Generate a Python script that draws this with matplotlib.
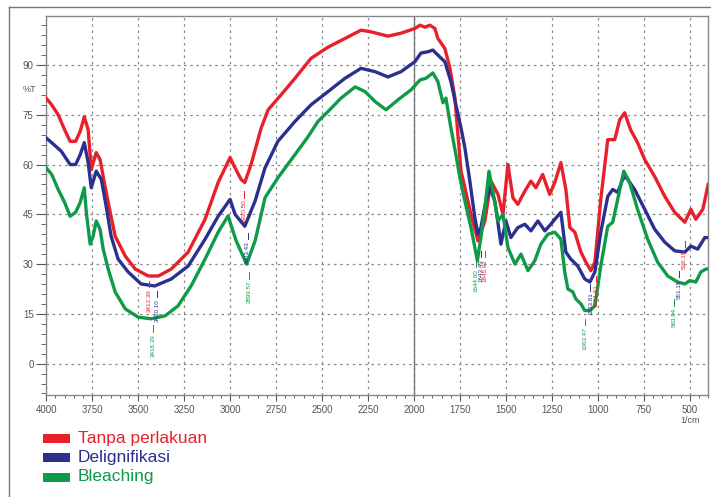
import matplotlib
matplotlib.use('Agg')
import matplotlib.pyplot as plt
from matplotlib.patches import Rectangle
from matplotlib.lines import Line2D
from matplotlib.ticker import MultipleLocator
import numpy as np

plt.rcParams['font.family'] = ['Liberation Sans', 'DejaVu Sans']

# spektrum FTIR: bilangan gelombang (1/cm) dan transmitansi (%T)
red_wn = [4000, 3970, 3935, 3900, 3870, 3840, 3815, 3793, 3772, 3755,
          3728, 3707, 3680, 3652, 3625, 3570, 3516, 3445, 3390, 3320,
          3228, 3136, 3065, 3000, 2973, 2940, 2920, 2886, 2831, 2793,
          2723, 2647, 2560, 2467, 2375, 2288, 2234, 2141, 2070, 1995,
          1967, 1940, 1913, 1886, 1870, 1832, 1804, 1777, 1761, 1744,
          1723, 1690, 1652, 1614, 1581, 1543, 1516, 1489, 1462, 1435,
          1397, 1364, 1337, 1300, 1262, 1234, 1201, 1174, 1152, 1125,
          1092, 1065, 1038, 1016, 984, 946, 908, 881, 854, 822,
          784, 745, 691, 636, 582, 527, 494, 467, 429, 400]
red_T = [80, 78, 75, 70.5, 67, 67, 70, 74.4, 70.5, 58.5,
         63.6, 61.5, 53.4, 45.6, 38.4, 32.4, 28.5, 26.4, 26.4, 28.5,
         33.6, 43.5, 54.6, 62.1, 59, 55.5, 54.6, 60, 71, 76.5,
         81, 86, 92, 95.4, 98, 100.5, 100, 98.7, 99.6, 101,
         102, 101.4, 102, 101, 98, 95, 89, 80, 69, 58,
         53, 45, 37, 43, 55, 51, 45, 60, 50, 48,
         52, 55, 53, 57, 51, 54.6, 60.6, 52.5, 41, 39.6,
         33.6, 30.6, 28, 30.6, 49.5, 67.5, 67.5, 73.5, 75.6, 70.5,
         66.6, 61.5, 56.4, 50.4, 45.6, 42.6, 46.5, 43.5, 46.5, 54]

blue_wn = [4000, 3970, 3918, 3870, 3840, 3815, 3793, 3772, 3755, 3728,
           3700, 3674, 3647, 3609, 3554, 3484, 3410, 3320, 3228, 3136,
           3065, 3000, 2973, 2920, 2864, 2810, 2740, 2647, 2560, 2467,
           2375, 2288, 2212, 2141, 2070, 1995, 1962, 1924, 1897, 1870,
           1832, 1799, 1772, 1744, 1723, 1696, 1669, 1652, 1636, 1609,
           1587, 1560, 1527, 1500, 1473, 1435, 1397, 1364, 1326, 1288,
           1256, 1234, 1201, 1174, 1147, 1109, 1071, 1043, 1016, 984,
           946, 919, 892, 865, 849, 800, 745, 691, 636, 582,
           527, 494, 457, 418, 400]
blue_T = [68, 66.6, 64, 60, 60, 63, 66.6, 60.6, 53, 58,
          55.5, 47.4, 38.4, 31.5, 27.6, 24, 23.4, 25.5, 29.4, 37.5,
          44.4, 49.5, 45, 41.4, 49, 59, 67, 73, 78, 82,
          86, 89, 88, 86.4, 88, 91, 93.6, 94, 94.5, 93,
          91, 85, 78, 71, 65, 55, 44, 39, 41, 49,
          53, 49, 36, 43, 38, 41, 42, 40, 43, 40,
          42, 43.5, 45.6, 33.6, 31.5, 29.4, 25.5, 24.6, 27.6, 39.6,
          50.4, 52.5, 51.6, 55.5, 56.4, 52.5, 46.5, 40.5, 36.6, 34,
          33.6, 35.4, 34.5, 38, 38]

green_wn = [4000, 3970, 3935, 3900, 3870, 3840, 3815, 3793, 3782, 3761,
            3745, 3728, 3707, 3690, 3663, 3625, 3570, 3500, 3430, 3353,
            3283, 3212, 3136, 3065, 3011, 2967, 2910, 2864, 2810, 2740,
            2647, 2576, 2522, 2467, 2397, 2320, 2266, 2212, 2152, 2087,
            2016, 1967, 1935, 1897, 1870, 1842, 1826, 1799, 1772, 1750,
            1723, 1690, 1655, 1636, 1614, 1592, 1571, 1543, 1516, 1489,
            1451, 1418, 1380, 1343, 1310, 1272, 1234, 1201, 1180, 1163,
            1136, 1120, 1092, 1071, 1043, 1016, 984, 946, 919, 892,
            859, 827, 784, 729, 675, 620, 566, 527, 500, 467,
            440, 413, 400]
green_T = [59, 57, 52.5, 48.6, 44.4, 45.6, 48.6, 53, 45.6, 36,
           38.4, 43, 40.5, 34.5, 28.5, 21.6, 16.5, 14, 13.5, 14.4,
           17.4, 23.4, 31.5, 39.6, 44.5, 37, 30, 37, 50, 56,
           63, 68.4, 73, 76, 80, 83.4, 82, 79, 76.5, 79.5,
           82.5, 85.5, 86, 87.6, 85, 78.6, 80, 71, 63, 56,
           49, 41, 31, 38, 47, 58, 52, 43, 45, 35,
           30, 33, 28, 31, 36, 39, 39.6, 37.5, 27.6, 22.5,
           21.6, 19.5, 18, 16, 16, 17.4, 29.4, 41.4, 42.6, 49.5,
           58, 54.6, 46.5, 37.5, 30.6, 26.4, 24.6, 24, 25, 24.6,
           27.6, 28.5, 28.5]

labels = ['Tanpa perlakuan', 'Delignifikasi', 'Bleaching']
colors = ['#E8202A', '#2B2F8F', '#0E9A48']

# label puncak: (bilangan gelombang, posisi atas, teks, seri)
peaks = [(3440, 25, '3412.39', 0), (3395, 22, '3410.10', 1), (3418, 11.5, '3418.39', 2),
         (2922, 52, '2920.50', 0), (2905, 39.5, '2903.43', 1), (2899, 27.5, '2899.57', 2),
         (1612, 34, '1645.92', 0), (1638, 34, '1643.43', 1), (1664, 31, '1644.00', 2),
         (1010, 26.5, '1031.61', 0), (1040, 24, '1033.81', 1), (1068, 13.5, '1063.47', 2),
         (528, 37, '536.15', 0), (558, 28, '551.15', 1), (586, 19.5, '563.94', 2)]

fig = plt.figure(figsize=(7.11, 4.97), dpi=100)
fig.patch.set_facecolor('white')
ax = fig.add_axes([0.065, 0.205, 0.931, 0.763])

for wn, T, c in zip([red_wn, blue_wn, green_wn], [red_T, blue_T, green_T], colors):
    ax.plot(wn, T, color=c, lw=2.4, solid_joinstyle='round', zorder=3)

for wn, top, txt, i in peaks:
    ax.plot([wn, wn], [top, top - 2], color=colors[i], lw=0.7, zorder=4)
    ax.text(wn, top - 2.6, txt, rotation=90, ha='center', va='top',
            fontsize=4.5, color=colors[i], zorder=4)

ax.set_xlim(4000, 400)
ax.set_ylim(-9.5, 104.8)
ax.xaxis.set_major_locator(MultipleLocator(250))
ax.xaxis.set_minor_locator(MultipleLocator(50))
ax.yaxis.set_major_locator(MultipleLocator(15))
ax.yaxis.set_minor_locator(MultipleLocator(3))
ax.set_xticks([4000, 3750, 3500, 3250, 3000, 2750, 2500, 2250, 2000,
               1750, 1500, 1250, 1000, 750, 500])
ax.set_yticks([0, 15, 30, 45, 60, 75, 90])
ax.grid(which='major', color='#8a8a8a', linestyle=(0, (2, 3)), lw=0.9)
ax.axvline(2000, color='#777777', lw=1.0, zorder=2)
ax.tick_params(axis='y', which='major', length=7, width=0.8, labelsize=7,
               colors='#555555', pad=2)
ax.tick_params(axis='y', which='minor', length=3.5, width=0.7, colors='#666666')
ax.tick_params(axis='x', which='major', length=4, width=0.8, labelsize=7,
               colors='#555555', pad=3)
ax.tick_params(axis='x', which='minor', length=2.5, width=0.7, colors='#666666')
for s in ax.spines.values():
    s.set_color('#888888')
    s.set_linewidth(1.0)

fig.text(0.042, 0.819, '%T', fontsize=6.5, color='#555555', ha='center', va='center')
fig.text(0.97, 0.153, '1/cm', fontsize=6.5, color='#555555', ha='center', va='center')

# bingkai luar
fig.add_artist(Line2D([0.0127, 1.0], [0.986, 0.986], color='#777777', lw=1.0))
fig.add_artist(Line2D([0.0127, 0.0127], [0.0, 0.986], color='#777777', lw=1.0))

# legenda manual di bawah grafik
for k, (lab, c) in enumerate(zip(labels, colors)):
    yc = 1 - (438 + 19.5 * k) / 497
    fig.add_artist(Rectangle((43 / 711, yc - 4.5 / 497), 27 / 711, 9 / 497,
                             facecolor=c, edgecolor='none'))
    fig.text(78 / 711, yc, lab, fontsize=12.5, color=c, va='center', ha='left')

plt.savefig('out.png', dpi=100, facecolor='white')
